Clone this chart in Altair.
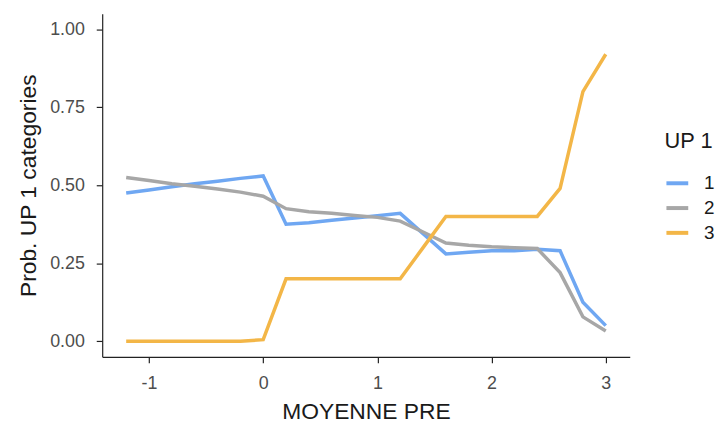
import altair as alt
import pandas as pd

x_vals = [-1.2, -1.0, -0.8, -0.6, -0.4, -0.2, 0.0, 0.2, 0.4, 0.6, 0.8,
          1.0, 1.2, 1.4, 1.6, 1.8, 2.0, 2.2, 2.4, 2.6, 2.8, 3.0]
p1 = [0.475, 0.485, 0.495, 0.505, 0.513, 0.522, 0.530, 0.375, 0.380, 0.388, 0.395,
      0.402, 0.410, 0.345, 0.280, 0.285, 0.290, 0.290, 0.295, 0.290, 0.125, 0.050]
p2 = [0.525, 0.515, 0.505, 0.497, 0.488, 0.478, 0.465, 0.425, 0.415, 0.410, 0.403,
      0.397, 0.385, 0.350, 0.315, 0.308, 0.303, 0.300, 0.297, 0.220, 0.078, 0.033]
p3 = [0.000, 0.000, 0.000, 0.000, 0.000, 0.000, 0.005, 0.200, 0.200, 0.200, 0.200,
      0.200, 0.200, 0.300, 0.400, 0.400, 0.400, 0.400, 0.400, 0.490, 0.800, 0.920]
categories = ["1", "2", "3"]
colors = ["#6FA7F2", "#A7A7A7", "#F3B647"]

rows = []
for cat, series in zip(categories, [p1, p2, p3]):
    for xv, yv in zip(x_vals, series):
        rows.append({"MOYENNE PRE": xv, "prob": yv, "UP 1": cat})
df = pd.DataFrame(rows)

chart = alt.Chart(df).mark_line(strokeWidth=3.5, strokeCap="butt").encode(
    x=alt.X("MOYENNE PRE:Q",
            scale=alt.Scale(domain=[-1.41, 3.21], nice=False, zero=False),
            axis=alt.Axis(values=[-1, 0, 1, 2, 3], labelExpr="'' + datum.value",
                          title="MOYENNE PRE", titlePadding=8)),
    y=alt.Y("prob:Q",
            scale=alt.Scale(domain=[-0.05, 1.05], nice=False, zero=False),
            axis=alt.Axis(values=[0, 0.25, 0.5, 0.75, 1.0], format=".2f",
                          title="Prob. UP 1 categories", titlePadding=9)),
    color=alt.Color("UP 1:N",
                    scale=alt.Scale(domain=categories, range=colors),
                    legend=alt.Legend(title="UP 1", orient="none", legendX=567, legendY=118,
                                      symbolType="stroke", symbolSize=484,
                                      symbolStrokeWidth=4, rowPadding=2,
                                      titleFontSize=22, titleFontWeight="normal",
                                      titleColor="#1a1a1a", labelFontSize=19,
                                      labelColor="#1a1a1a", titlePadding=18,
                                      labelOffset=14)),
).properties(
    width=532, height=346,
    autosize=alt.AutoSizeParams(type="none"),
    padding={"left": 95, "top": 4, "right": 88, "bottom": 66},
).configure_view(
    stroke=None
).configure_axis(
    grid=False,
    domainColor="#222222",
    domainWidth=1.2,
    tickColor="#222222",
    tickWidth=1.2,
    tickSize=6,
    labelPadding=12,
    labelFont="Liberation Sans",
    labelFontSize=18,
    labelColor="#4D4D4D",
    titleFont="Liberation Sans",
    titleFontSize=23,
    titleFontWeight="normal",
    titleColor="#1a1a1a",
).configure_legend(
    labelFont="Liberation Sans",
    titleFont="Liberation Sans",
)

chart.save("out.html", embed_options={"renderer": "svg", "actions": False})
